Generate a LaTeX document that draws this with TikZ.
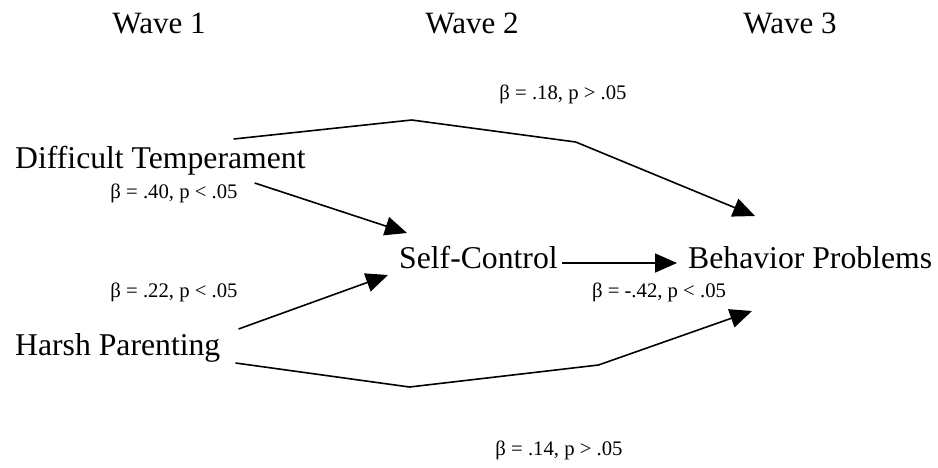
\documentclass[tikz,border=0pt]{standalone}
\usepackage{fontspec}
\setmainfont{Liberation Serif}
\usepackage{tikz}
\usetikzlibrary{arrows.meta,positioning,calc}
\tikzset{
  pmvar/.style={inner sep=0pt, font=\fontsize{31.7}{36}\selectfont},
  pmwave/.style={inner sep=0pt, anchor=base, font=\fontsize{31}{36}\selectfont},
  pmlabel/.style={inner sep=0pt, anchor=base, font=\fontsize{20.7}{24}\selectfont},
  pmarrow/.style={-{Triangle[length=22pt, width=19pt]}, line join=miter},
}

\begin{document}
\begin{tikzpicture}[x=1pt,y=-1pt]
  \useasboundingbox (0,0) rectangle (938,467);

  \node[pmwave] (w1) at (159,33) {Wave 1};
  \node[pmwave] (w2) at (472,33) {Wave 2};
  \node[pmwave] (w3) at (790,33) {Wave 3};

  \node[pmvar, anchor=base west] (dt) at (15,168) {Difficult Temperament};
  \node[pmvar, anchor=base west] (hp) at (15,355) {Harsh Parenting};
  \node[pmvar, anchor=base west] (sc) at (399,268) {Self-Control};
  \node[pmvar, anchor=base west] (bp) at (688,268) {Behavior Problems};

  \node[pmlabel] (l18) at (563,99) {β = .18, p > .05};
  \node[pmlabel] (l40) at (174,198) {β = .40, p < .05};
  \node[pmlabel] (l22) at (174,297) {β = .22, p < .05};
  \node[pmlabel] (l42) at (659,297) {β = -.42, p < .05};
  \node[pmlabel] (l14) at (559,455) {β = .14, p > .05};

  \draw[pmarrow, line width=1.6pt] ($(dt.base east)+(-51,15)$) -- ($(sc.base west)+(8,-35)$);
  \draw[pmarrow, line width=1.6pt] ($(hp.base east)+(18,-26)$) -- ($(sc.base west)+(-11,7)$);
  \draw[pmarrow, line width=1.6pt] ($(sc.base east)+(4,-5)$) -- ($(bp.base west)+(-11,-5)$);

  \draw[pmarrow, line width=1.6pt]
    ($(dt.base east)+(-72,-29)$) -- ++(178,-19) -- ++(164,22) -- ($(bp.base west)+(67,-52)$);
  \draw[pmarrow, line width=1.6pt]
    ($(hp.base east)+(15,8)$) -- ++(174,24) -- ++(189,-22) -- ($(bp.base west)+(64,43)$);
\end{tikzpicture}
\end{document}
